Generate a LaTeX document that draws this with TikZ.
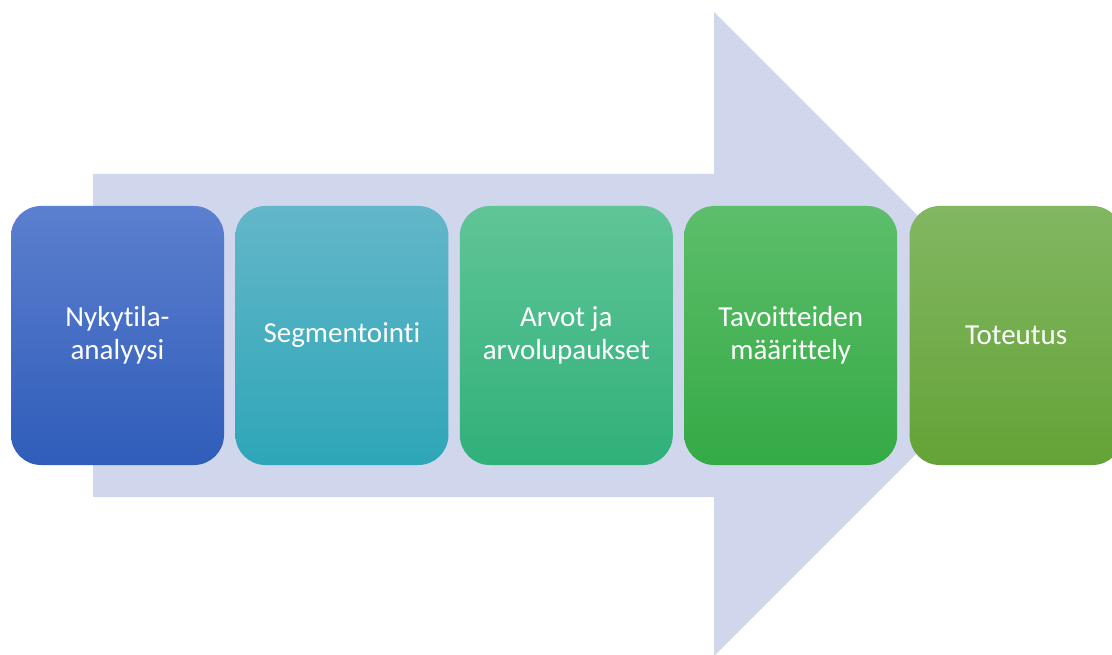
\documentclass[tikz,border=0pt]{standalone}
\usepackage{fontspec}
\setmainfont{Carlito}[Ligatures=NoCommon]
\usetikzlibrary{positioning}

\definecolor{arrowfill}{HTML}{D0D6EB}
\definecolor{blueT}{HTML}{5C7FCF}
\definecolor{blueB}{HTML}{2F5DB9}
\definecolor{tealT}{HTML}{62B7C8}
\definecolor{tealB}{HTML}{2EA6B8}
\definecolor{mintT}{HTML}{60C598}
\definecolor{mintB}{HTML}{30B07A}
\definecolor{greenT}{HTML}{5DBE6B}
\definecolor{greenB}{HTML}{34AA44}
\definecolor{oliveT}{HTML}{82B762}
\definecolor{oliveB}{HTML}{64A337}

\begin{document}
\begin{tikzpicture}[x=1pt, y=-1pt]
  \tikzset{phase/.style={minimum width=213pt, minimum height=259pt, inner sep=0pt,
                         rounded corners=30pt, align=center, text=white,
                         font=\fontsize{29}{33}\selectfont, shading=axis,
                         top color=#1T, bottom color=#1B}}
  \clip (0,0) rectangle (1112,655);
  % big arrow behind the steps
  \fill[arrowfill] (93,174) -- (714,174) -- (714,12) -- (1036,334)
                   -- (714,656) -- (714,497) -- (93,497) -- cycle;
  % the five steps
  \node[phase=blue] (nyky) at (117.5,335.5) {Nykytila-\\analyysi};
  \node[phase=teal, right=11pt of nyky] (segm) {Segmentointi};
  \node[phase=mint, right=11pt of segm] (arvot) {Arvot ja\\arvolupaukset};
  \node[phase=green, right=11pt of arvot] (tavo) {Tavoitteiden\\määrittely};
  \node[phase=olive, right=12pt of tavo] (tote) {Toteutus};
\end{tikzpicture}
\end{document}
